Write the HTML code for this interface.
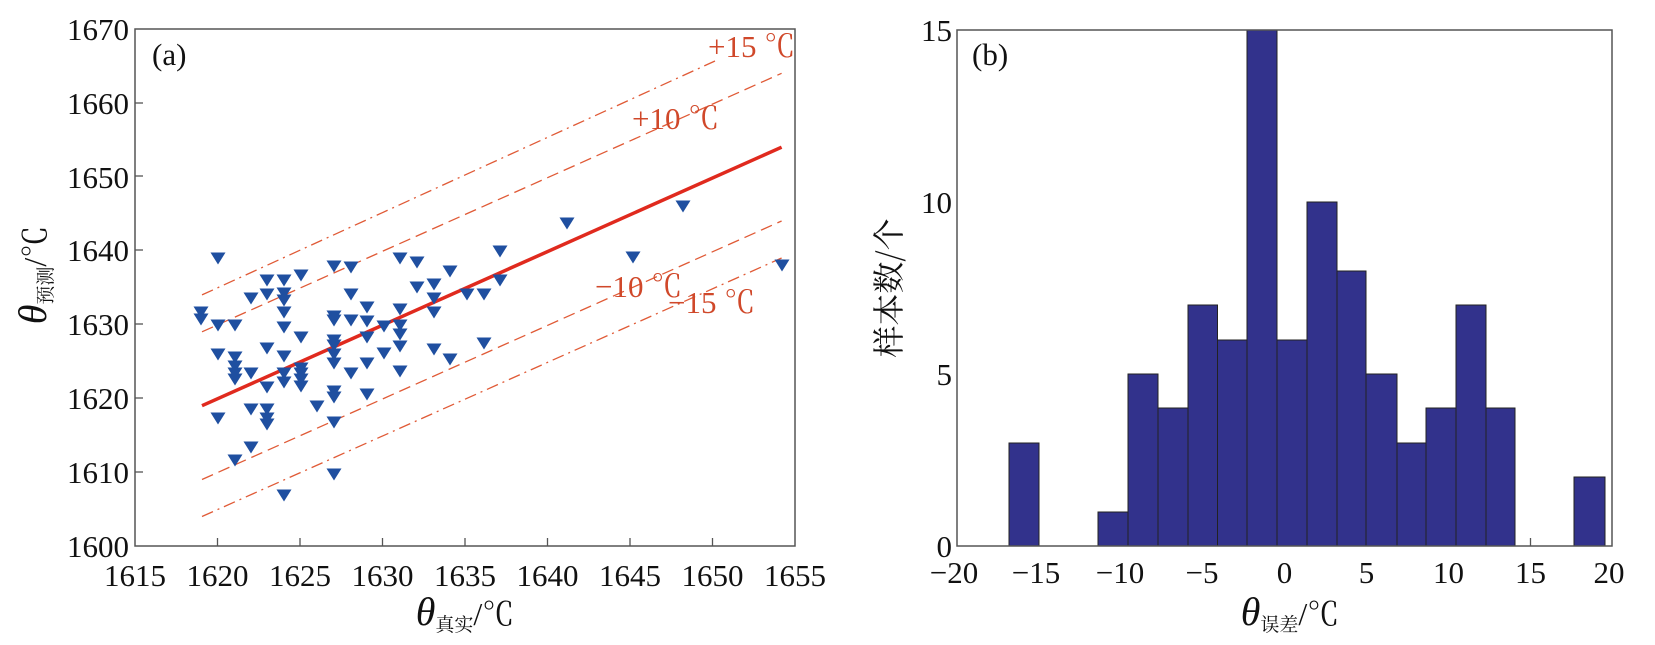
<!DOCTYPE html>
<html><head><meta charset="utf-8"><style>
body{margin:0;background:#fff}
svg text{font-family:"Liberation Serif","Noto Serif CJK SC",serif}
</style></head><body>
<svg width="1655" height="640" viewBox="0 0 1655 640" xmlns="http://www.w3.org/2000/svg">
<defs>
<path id="m" d="M-7.5,-5.5 L7.5,-5.5 L0,6.5 Z" fill="#1f4fa0"/>
</defs>
<g fill="none" stroke="#e05a36" stroke-width="1.3">
<line x1="202" y1="294.9" x2="715" y2="61" stroke-dasharray="12,5,2,5"/>
<line x1="202" y1="331.8" x2="781.6" y2="73.3" stroke-dasharray="12,6"/>
<line x1="202" y1="479.5" x2="781.6" y2="221" stroke-dasharray="12,6"/>
<line x1="202" y1="516.5" x2="781.6" y2="258" stroke-dasharray="12,5,2,5"/>
<line x1="202" y1="405.7" x2="781.6" y2="147.2" stroke="#e02a1e" stroke-width="3.5"/>
</g>
<g fill="#1f4fa0">
<use href="#m" x="201" y="312"/><use href="#m" x="201" y="319"/><use href="#m" x="218" y="258"/><use href="#m" x="218" y="325"/><use href="#m" x="218" y="354"/><use href="#m" x="218" y="418"/><use href="#m" x="235" y="325"/><use href="#m" x="235" y="357"/><use href="#m" x="235" y="366"/><use href="#m" x="235" y="373"/><use href="#m" x="235" y="379"/><use href="#m" x="235" y="460"/><use href="#m" x="251" y="298"/><use href="#m" x="251" y="373"/><use href="#m" x="251" y="409"/><use href="#m" x="251" y="447"/><use href="#m" x="267" y="280"/><use href="#m" x="267" y="294"/><use href="#m" x="267" y="348"/><use href="#m" x="267" y="387"/><use href="#m" x="267" y="409"/><use href="#m" x="267" y="418"/><use href="#m" x="267" y="424"/><use href="#m" x="284" y="280"/><use href="#m" x="284" y="293"/><use href="#m" x="284" y="300"/><use href="#m" x="284" y="312"/><use href="#m" x="284" y="327"/><use href="#m" x="284" y="356"/><use href="#m" x="284" y="373"/><use href="#m" x="284" y="382"/><use href="#m" x="284" y="495"/><use href="#m" x="301" y="275"/><use href="#m" x="301" y="337"/><use href="#m" x="301" y="368"/><use href="#m" x="301" y="373"/><use href="#m" x="301" y="379"/><use href="#m" x="301" y="386"/><use href="#m" x="317" y="406"/><use href="#m" x="334" y="266"/><use href="#m" x="334" y="316"/><use href="#m" x="334" y="320"/><use href="#m" x="334" y="340"/><use href="#m" x="334" y="345"/><use href="#m" x="334" y="354"/><use href="#m" x="334" y="363"/><use href="#m" x="334" y="391"/><use href="#m" x="334" y="397"/><use href="#m" x="334" y="422"/><use href="#m" x="334" y="474"/><use href="#m" x="351" y="267"/><use href="#m" x="351" y="294"/><use href="#m" x="351" y="320"/><use href="#m" x="351" y="373"/><use href="#m" x="367" y="307"/><use href="#m" x="367" y="321"/><use href="#m" x="367" y="337"/><use href="#m" x="367" y="363"/><use href="#m" x="367" y="394"/><use href="#m" x="384" y="326"/><use href="#m" x="384" y="353"/><use href="#m" x="400" y="258"/><use href="#m" x="400" y="309"/><use href="#m" x="400" y="325"/><use href="#m" x="400" y="334"/><use href="#m" x="400" y="346"/><use href="#m" x="400" y="371"/><use href="#m" x="417" y="262"/><use href="#m" x="417" y="287"/><use href="#m" x="434" y="284"/><use href="#m" x="434" y="298"/><use href="#m" x="434" y="312"/><use href="#m" x="434" y="349"/><use href="#m" x="450" y="271"/><use href="#m" x="450" y="359"/><use href="#m" x="467" y="294"/><use href="#m" x="484" y="294"/><use href="#m" x="484" y="343"/><use href="#m" x="500" y="251"/><use href="#m" x="500" y="280"/><use href="#m" x="567" y="223"/><use href="#m" x="633" y="257"/><use href="#m" x="683" y="206"/><use href="#m" x="782" y="265"/>
</g>
<rect x="135" y="29" width="660" height="517" fill="none" stroke="#555" stroke-width="1.5"/>
<g stroke="#555" stroke-width="1.3">
<line x1="217.5" y1="546" x2="217.5" y2="538"/><line x1="300" y1="546" x2="300" y2="538"/><line x1="382.5" y1="546" x2="382.5" y2="538"/><line x1="465" y1="546" x2="465" y2="538"/><line x1="547.5" y1="546" x2="547.5" y2="538"/><line x1="630" y1="546" x2="630" y2="538"/><line x1="712.5" y1="546" x2="712.5" y2="538"/>
<line x1="135" y1="472" x2="143" y2="472"/><line x1="135" y1="398" x2="143" y2="398"/><line x1="135" y1="324" x2="143" y2="324"/><line x1="135" y1="250" x2="143" y2="250"/><line x1="135" y1="176" x2="143" y2="176"/><line x1="135" y1="103" x2="143" y2="103"/>
</g>
<g font-size="31" fill="#111" text-anchor="end">
<text x="129" y="557">1600</text><text x="129" y="483">1610</text><text x="129" y="409">1620</text><text x="129" y="335">1630</text><text x="129" y="261">1640</text><text x="129" y="188">1650</text><text x="129" y="114">1660</text><text x="129" y="40">1670</text>
</g>
<g font-size="31" fill="#111" text-anchor="middle">
<text x="135" y="586">1615</text><text x="217.5" y="586">1620</text><text x="300" y="586">1625</text><text x="382.5" y="586">1630</text><text x="465" y="586">1635</text><text x="547.5" y="586">1640</text><text x="630" y="586">1645</text><text x="712.5" y="586">1650</text><text x="795" y="586">1655</text>
</g>
<text x="465" y="625" font-size="32" text-anchor="middle" fill="#111"><tspan font-style="italic" font-size="40">θ</tspan><tspan font-size="19" dy="6">真实</tspan><tspan dy="-6">/℃</tspan></text>
<text transform="translate(46,275) rotate(-90)" font-size="32" text-anchor="middle" fill="#111"><tspan font-style="italic" font-size="40">θ</tspan><tspan font-size="19" dy="6">预测</tspan><tspan dy="-6">/℃</tspan></text>
<text x="152" y="65" font-size="31" fill="#111">(a)</text>
<g font-size="31" fill="#d0482a">
<text x="708" y="57">+15 ℃</text><text x="632" y="129">+10 ℃</text><text x="595" y="297">−10 ℃</text><text x="668" y="313">−15 ℃</text>
</g>
<g fill="#32328c" stroke="#222" stroke-width="1">
<rect x="1009" y="443" width="30" height="103"/>
<rect x="1098" y="512" width="30" height="34"/>
<rect x="1128" y="374" width="30" height="172"/>
<rect x="1158" y="408" width="30" height="138"/>
<rect x="1188" y="305" width="29.5" height="241"/>
<rect x="1217.5" y="340" width="29.5" height="206"/>
<rect x="1247" y="30" width="30" height="516"/>
<rect x="1277" y="340" width="30" height="206"/>
<rect x="1307" y="202" width="30" height="344"/>
<rect x="1337" y="271" width="29" height="275"/>
<rect x="1366" y="374" width="31" height="172"/>
<rect x="1397" y="443" width="29" height="103"/>
<rect x="1426" y="408" width="30" height="138"/>
<rect x="1456" y="305" width="30" height="241"/>
<rect x="1486" y="408" width="29" height="138"/>
<rect x="1574" y="477" width="31" height="69"/>
</g>
<rect x="957" y="30" width="655" height="516" fill="none" stroke="#555" stroke-width="1.5"/>
<line x1="1530.5" y1="546" x2="1530.5" y2="538" stroke="#555" stroke-width="1.3"/>
<g font-size="31" fill="#111" text-anchor="end">
<text x="952" y="557">0</text><text x="952" y="385">5</text><text x="952" y="213">10</text><text x="952" y="41">15</text>
</g>
<g font-size="31" fill="#111" text-anchor="middle">
<text x="954" y="583">−20</text><text x="1036" y="583">−15</text><text x="1120" y="583">−10</text><text x="1202" y="583">−5</text><text x="1284.5" y="583">0</text><text x="1366.5" y="583">5</text><text x="1448.5" y="583">10</text><text x="1530.5" y="583">15</text><text x="1609" y="583">20</text>
</g>
<text x="1290" y="625" font-size="32" text-anchor="middle" fill="#111"><tspan font-style="italic" font-size="40">θ</tspan><tspan font-size="19" dy="6">误差</tspan><tspan dy="-6">/℃</tspan></text>
<text transform="translate(900,288) rotate(-90)" font-size="32" text-anchor="middle" fill="#111" style="font-family:'Noto Serif CJK SC',serif">样本数/个</text>
<text x="972" y="65" font-size="31" fill="#111">(b)</text>
</svg>
</body></html>
